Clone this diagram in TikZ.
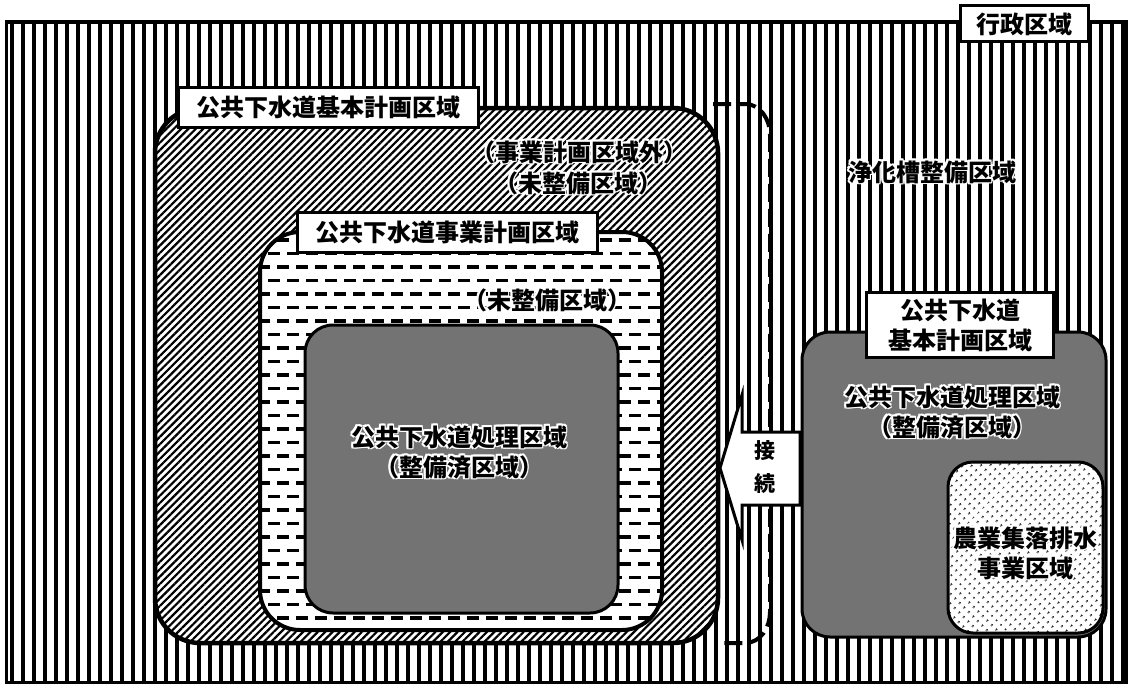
\documentclass[tikz,border=0pt]{standalone}
\usepackage{fontspec}
\newfontfamily\jp{Noto Sans CJK JP}
\usetikzlibrary{patterns.meta,calc}
\tikzset{
  txt/.style={font=\jp\bfseries\fontsize{24}{30}\selectfont, align=center, inner sep=0pt},
  lbl/.style={txt, draw, line width=3pt, fill=white},
  stripe/.style={line width=3.3pt, black},
  hatchbox/.style={preaction={fill=white}, pattern={Lines[angle=45,distance=5.2pt,line width=2.2pt]}, draw, line width=4.5pt, rounded corners=45pt},
  dashbox/.style={draw, line width=4pt, rounded corners=40pt},
  dashrow/.style={line width=3.5pt, dash pattern=on 12pt off 7pt},
  graybox/.style={fill=black!55, draw, line width=3pt, rounded corners=28pt},
  dotbox/.style={preaction={fill=white}, pattern={Dots[angle=45,distance=6.5pt,radius=1.3pt]}, draw, line width=3pt, rounded corners=25pt},
  bracket/.style={line width=4pt, dash pattern=on 18pt off 7pt},
  arrowbox/.style={fill=white, draw, line width=3pt, line join=miter}
}
\newcommand\halonode[3]{%
  \foreach \dx/\dy in {-1.8/0,1.8/0,0/-1.8,0/1.8,-1.3/-1.3,1.3/1.3,-1.3/1.3,1.3/-1.3}{
    \node[txt,text=white] at ($(#2)+(\dx,\dy)$) {#3};}
  \node[txt] (#1) at (#2) {#3};}
\begin{document}
\begin{tikzpicture}[x=1pt,y=-1pt]
\useasboundingbox (0,0) rectangle (1129,685);
\fill[white] (0,0) rectangle (1129,685);
% background stripes
\begin{scope}
  \clip (6,22) rectangle (1126,682);
  \foreach \i in {0,...,102}{
    \draw[stripe] (12+\i*11,20) -- (12+\i*11,685);
  }
\end{scope}
\draw[line width=3pt] (6,22) rectangle (1126,682);
\draw[line width=4.5pt] (6,22) -- (1126,22);
\node[lbl, minimum width=128pt, minimum height=36pt] (gyosei) at (1024,24) {行政区域};

% left big hatched area
\path[hatchbox] (155,108) rectangle (718,643);
% bracket
\coordinate (bt) at (713,104);
\coordinate (bb) at (722,643);
\draw[bracket] (bt) -- (745,104) to[out=0,in=90] (770,135) -- (770,612) to[out=-90,in=0] (745,643) -- (bb);

% dashed area
\fill[white, rounded corners=40pt] (260,232) rectangle (662,630);
\begin{scope}
  \clip[rounded corners=40pt] (260,232) rectangle (662,630);
  \foreach \r [evaluate=\r as \ph using {mod(\r,2)*9}] in {0,...,29}{
    \draw[dashrow, dash phase=\ph pt] (258,240+\r*13.5) -- (665,240+\r*13.5);
  }
\end{scope}
\draw[dashbox] (260,232) rectangle (662,630);

% left gray
\path[graybox] (305,325) rectangle (618,613);

% labels left
\node[lbl, minimum width=300pt, minimum height=40pt] (kihon) at (328,107) {公共下水道基本計画区域};
\node[lbl, minimum width=300pt, minimum height=40pt] (jigyo) at (447,232) {公共下水道事業計画区域};

\halonode{gai}{579,152}{（事業計画区域外）}
\halonode{mi1}{578,183}{（未整備区域）}
\halonode{mi2}{547,300}{（未整備区域）}
\halonode{shoriL}{459,452}{公共下水道処理区域\\（整備済区域）}
\halonode{joka}{932,172}{浄化槽整備区域}

% right gray
\path[graybox] (802,332) rectangle (1106,637);
\path[dotbox] (948,462) rectangle (1103,633);
\node[lbl, minimum width=187pt, minimum height=65pt] (kihonR) at (960,325) {公共下水道\\基本計画区域};
\halonode{shoriR}{952,412}{公共下水道処理区域\\（整備済区域）}
\halonode{nogyo}{1025,553}{農業集落排水\\事業区域}

% connection arrow
\draw[arrowbox] (800,432) -- (742,432) -- (742,395) -- (720,468) -- (742,540) -- (742,505) -- (800,505) -- cycle;
\node[txt, font=\jp\bfseries\fontsize{21}{33}\selectfont] (setsuzoku) at (765,467) {接\\続};
\end{tikzpicture}
\end{document}
